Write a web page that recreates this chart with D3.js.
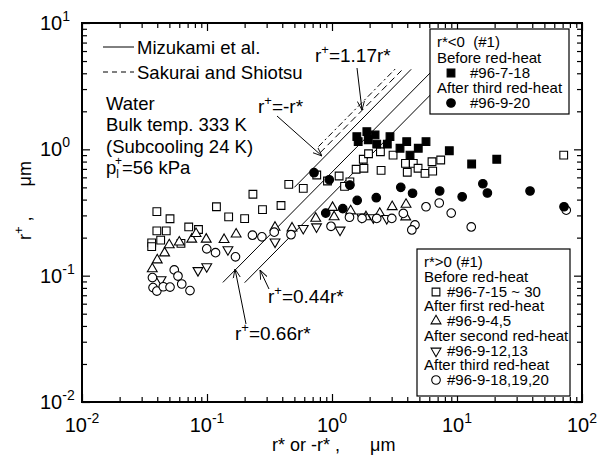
<!DOCTYPE html>
<html>
<head>
<meta charset="utf-8">
<script src="https://cdn.jsdelivr.net/npm/d3@7"></script>
<style>
  body { margin: 0; background: #fff; }
  text { font-family: "Liberation Sans", Arial, sans-serif; fill: #000; white-space: pre; }
</style>
</head>
<body>
<div id="chart"></div>
<script>
// r*<0, before red-heat (#96-7-18) - filled squares
var negBefore = [[1.58,1.26],[1.90,1.38],[2.21,1.30],[1.62,1.15],[1.95,1.19],[2.28,1.10],
  [2.91,1.26],[2.77,1.10],[3.50,1.02],[3.96,1.15],[4.21,0.90],[4.90,1.02],[5.65,1.15],
  [8.68,0.975],[13.1,0.765],[20.8,0.834]];
// r*<0, after third red-heat (#96-9-20) - filled circles
var negAfter3 = [[0.718,0.653],[0.951,0.574],[1.39,0.521],[1.59,0.394],[1.22,0.339],[0.891,0.313],
  [2.26,0.414],[3.55,0.500],[4.41,0.449],[7.27,0.468],[11.0,0.421],[16.1,0.534],[17.5,0.451],
  [38.4,0.468],[71.8,0.351]];
// r*>0, before red-heat (#96-7-15 ~ 30) - open squares
var posBefore = [[0.0397,0.321],[0.0506,0.282],[0.0397,0.226],[0.0472,0.226],[0.0361,0.182],[0.0361,0.170],
  [0.0426,0.191],[0.0619,0.180],[0.0714,0.243],[0.0855,0.232],[0.119,0.351],[0.149,0.292],[0.200,0.283],
  [0.233,0.441],[0.278,0.333],[0.391,0.359],[0.451,0.528],[0.589,0.491],[0.755,0.626],[0.920,0.561],
  [1.14,0.615],[1.26,0.509],[1.39,0.553],[1.56,0.695],[1.80,0.708],[1.78,0.834],[1.96,0.923],[2.44,0.957],
  [2.47,0.682],[3.08,0.901],[3.87,0.775],[4.00,0.658],[4.47,0.775],[4.88,0.708],[5.55,0.645],[6.39,0.673],
  [6.31,0.798],[7.41,0.823],[71.4,0.901]];
// r*>0, after first red-heat (#96-9-4,5) - triangles
var posAfter1 = [[0.0365,0.113],[0.040,0.133],[0.0458,0.151],[0.0499,0.175],[0.060,0.184],[0.0755,0.194],
  [0.0817,0.215],[0.0986,0.194],[0.137,0.193],[0.171,0.213],[0.350,0.241],[0.479,0.238],[0.741,0.284],
  [1.01,0.346],[1.04,0.292],[1.41,0.325],[1.87,0.292],[2.41,0.311],[3.03,0.351],[3.91,0.366],[3.89,0.291]];
// r*>0, after second red-heat (#96-9-12,13) - inverted triangles
var posAfter2 = [[0.0429,0.0931],[0.0847,0.110],[0.0995,0.118],[0.147,0.161],[0.350,0.185],[0.589,0.237],
  [0.752,0.244],[1.16,0.230],[1.73,0.292],[2.14,0.288],[2.74,0.284]];
// r*>0, after third red-heat (#96-9-18,19,20) - open circles
var posAfter3 = [[0.0366,0.0966],[0.037,0.0805],[0.0397,0.0755],[0.0447,0.0817],[0.0506,0.0812],[0.0547,0.111],
  [0.0586,0.0993],[0.0628,0.0859],[0.0731,0.0762],[0.0995,0.163],[0.117,0.152],[0.169,0.141],[0.231,0.209],
  [0.275,0.203],[0.345,0.221],[0.470,0.211],[0.982,0.246],[1.38,0.290],[1.74,0.284],[2.28,0.284],[3.01,0.284],
  [3.72,0.311],[4.61,0.252],[4.35,0.230],[5.65,0.351],[7.21,0.376],[8.99,0.313],[13.0,0.243],[74.8,0.330]];

// correlation lines r+ = k r*, drawn between r* = from and r* = to
var mizukamiK = [1, 0.66, 0.44];
var mizukamiFrom = [0.5, 0.134, 0.2];
var mizukamiTo = [4.3, 7.5, 9];
var sakuraiK = [1.17, 1.35];
var sakuraiFrom = [0.8, 0.78];
var sakuraiTo = [3.6, 3.3];

var xDecades = [1e-2, 1e-1, 1, 10, 100];
var yDecades = [1e-2, 1e-1, 1, 10];

var width = 602, height = 459;
var svg = d3.select('#chart').append('svg').attr('width', width).attr('height', height);

var x = d3.scaleLog().domain([1e-2, 1e2]).range([82, 582]);
var y = d3.scaleLog().domain([1e-2, 1e1]).range([402, 23]);

function minors(decades) {
  var out = [];
  for (var i = 0; i < decades.length - 1; i++)
    for (var m = 2; m <= 9; m++) out.push(decades[i] * m);
  return out;
}

// ticks, all pointing inward
function drawTicks(axis, vals, size, transform) {
  var g = svg.append('g').attr('transform', transform)
    .call(axis.tickValues(vals).tickSizeInner(-size).tickSizeOuter(0).tickFormat(''));
  g.select('.domain').remove();
  g.selectAll('line').attr('stroke', '#000').attr('stroke-width', 1.2);
}
[[5, minors(xDecades)], [8, xDecades]].forEach(function(t) {
  drawTicks(d3.axisBottom(x), t[1], t[0], 'translate(0,402)');
  drawTicks(d3.axisTop(x), t[1], t[0], 'translate(0,23)');
});
[[5, minors(yDecades)], [8, yDecades]].forEach(function(t) {
  drawTicks(d3.axisLeft(y), t[1], t[0], 'translate(82,0)');
  drawTicks(d3.axisRight(y), t[1], t[0], 'translate(582,0)');
});

svg.append('rect').attr('x', 82).attr('y', 23).attr('width', 500).attr('height', 379)
  .attr('fill', 'none').attr('stroke', '#000').attr('stroke-width', 2);

// tick labels 10^n
function power(sel, v) {
  var e = Math.round(Math.log10(v));
  sel.append('tspan').text('10');
  sel.append('tspan').attr('font-size', 14).attr('dy', -9).text(e < 0 ? '-' + (-e) : e);
}
xDecades.forEach(function(v) {
  var t = svg.append('text').attr('x', x(v)).attr('y', 432).attr('font-size', 20)
    .attr('text-anchor', 'middle');
  power(t, v);
});
yDecades.forEach(function(v) {
  var t = svg.append('text').attr('x', 40).attr('y', y(v) + 7).attr('font-size', 20);
  power(t, v);
});

// axis titles
svg.append('text').attr('x', 272).attr('y', 451).attr('font-size', 18)
  .text('r* or -r* ,      \u03bcm');
var yt = svg.append('text').attr('transform', 'translate(31,240) rotate(-90)').attr('font-size', 18);
yt.append('tspan').text('r');
yt.append('tspan').attr('font-size', 13).attr('dy', -8).text('+');
yt.append('tspan').attr('dy', 8).text(' ,      \u03bcm');

// correlation lines
var line = d3.line().x(function(d) { return x(d[0]); }).y(function(d) { return y(d[1]); });
mizukamiK.forEach(function(k, i) {
  svg.append('path').attr('d', line([[mizukamiFrom[i], k * mizukamiFrom[i]], [mizukamiTo[i], k * mizukamiTo[i]]]))
    .attr('stroke', '#000').attr('stroke-width', 1).attr('fill', 'none');
});
var sakuraiDash = ['7,4', '6,3,2,3'];
sakuraiK.forEach(function(k, i) {
  svg.append('path').attr('d', line([[sakuraiFrom[i], k * sakuraiFrom[i]], [sakuraiTo[i], k * sakuraiTo[i]]]))
    .attr('stroke', '#000').attr('stroke-width', 1).attr('fill', 'none')
    .attr('stroke-dasharray', sakuraiDash[i]);
});

// markers
var sq = d3.symbol().type(d3.symbolSquare).size(60)();
var ci = d3.symbol().type(d3.symbolCircle).size(58)();
var tri = d3.symbol().type(d3.symbolTriangle).size(42)();

function plot(data, path, fill, rot) {
  svg.append('g').selectAll('path').data(data).enter().append('path')
    .attr('d', path)
    .attr('transform', function(d) {
      return 'translate(' + x(d[0]) + ',' + y(d[1]) + ')' + (rot ? ' rotate(180)' : '');
    })
    .attr('fill', fill).attr('stroke', '#000').attr('stroke-width', 1.1);
}
plot(posBefore, sq, '#fff');
plot(posAfter1, tri, '#fff');
plot(posAfter2, tri, '#fff', true);
plot(posAfter3, ci, '#fff');
plot(negAfter3, ci, '#000');
plot(negBefore, sq, '#000');

// arrows for annotations
svg.append('defs').append('marker').attr('id', 'arr').attr('viewBox', '0 -5 10 10')
  .attr('refX', 10).attr('refY', 0).attr('markerWidth', 9).attr('markerHeight', 9)
  .attr('markerUnits', 'userSpaceOnUse').attr('orient', 'auto')
  .append('path').attr('d', 'M0,-4L10,0L0,4').attr('fill', 'none').attr('stroke', '#000');

function arrow(x1, y1, x2, y2) {
  svg.append('line').attr('x1', x1).attr('y1', y1).attr('x2', x2).attr('y2', y2)
    .attr('stroke', '#000').attr('stroke-width', 1).attr('marker-end', 'url(#arr)');
}
function rlabel(px, py, rest) {
  var t = svg.append('text').attr('x', px).attr('y', py).attr('font-size', 19);
  t.append('tspan').text('r');
  t.append('tspan').attr('font-size', 13).attr('dy', -8).text('+');
  t.append('tspan').attr('dy', 8).text(rest);
}
rlabel(315, 62, '=1.17r*');
arrow(357, 68, 362, 110);
rlabel(258, 113, '=-r*');
arrow(277, 116, 322, 156);
rlabel(268, 303, '=0.44r*');
arrow(269, 289, 260, 270);
rlabel(235, 340, '=0.66r*');
arrow(246, 324, 235, 269);

// upper left legend and conditions
svg.append('line').attr('x1', 103).attr('x2', 134).attr('y1', 47).attr('y2', 47).attr('stroke', '#000');
svg.append('text').attr('x', 137).attr('y', 54).attr('font-size', 18.5).text('Mizukami et al.');
svg.append('line').attr('x1', 103).attr('x2', 134).attr('y1', 72).attr('y2', 72).attr('stroke', '#000')
  .attr('stroke-dasharray', '5,4');
svg.append('text').attr('x', 137).attr('y', 79).attr('font-size', 18.5).text('Sakurai and Shiotsu');

var cond = ['Water', 'Bulk temp. 333 K', '(Subcooling 24 K)'];
cond.forEach(function(s, i) {
  svg.append('text').attr('x', 106).attr('y', 110 + i * 21.3).attr('font-size', 18.5).text(s);
});
var pt = svg.append('text').attr('x', 106).attr('y', 174).attr('font-size', 18.5);
pt.append('tspan').text('p');
pt.append('tspan').attr('font-size', 12).attr('dy', 4).text('l');
pt.append('tspan').attr('font-size', 12).attr('dx', -4).attr('dy', -13).text('+');
pt.append('tspan').attr('dy', 9).text('=56 kPa');

// boxed legends
function legendBox(bx, by, bw, bh, rows) {
  svg.append('rect').attr('x', bx).attr('y', by).attr('width', bw).attr('height', bh)
    .attr('fill', '#fff').attr('stroke', '#000').attr('stroke-width', 1.2);
  rows.forEach(function(r) {
    if (r.sym) {
      svg.append('path').attr('d', r.sym)
        .attr('transform', 'translate(' + r.mx + ',' + (r.y - 5) + ')' + (r.rot ? ' rotate(180)' : ''))
        .attr('fill', r.fill).attr('stroke', '#000').attr('stroke-width', 1.1);
    }
    svg.append('text').attr('x', r.x).attr('y', r.y).attr('font-size', 15).text(r.text);
  });
}
legendBox(430, 29, 139, 85, [
  {x: 437, y: 47, text: 'r*<0  (#1)'},
  {x: 437, y: 63, text: 'Before red-heat'},
  {x: 470, y: 78, text: '#96-7-18', sym: sq, mx: 451, fill: '#000'},
  {x: 437, y: 93, text: 'After third red-heat'},
  {x: 470, y: 108, text: '#96-9-20', sym: ci, mx: 451, fill: '#000'}
]);
legendBox(417, 249, 153, 147, [
  {x: 424, y: 267, text: 'r*>0 (#1)'},
  {x: 424, y: 282, text: 'Before red-heat'},
  {x: 447, y: 297, text: '#96-7-15 ~ 30', sym: sq, mx: 436, fill: '#fff'},
  {x: 424, y: 311, text: 'After first red-heat'},
  {x: 447, y: 326, text: '#96-9-4,5', sym: tri, mx: 436, fill: '#fff'},
  {x: 424, y: 341, text: 'After second red-heat'},
  {x: 447, y: 356, text: '#96-9-12,13', sym: tri, mx: 436, fill: '#fff', rot: true},
  {x: 424, y: 370, text: 'After third red-heat'},
  {x: 447, y: 385, text: '#96-9-18,19,20', sym: ci, mx: 436, fill: '#fff'}
]);
</script>
</body>
</html>
